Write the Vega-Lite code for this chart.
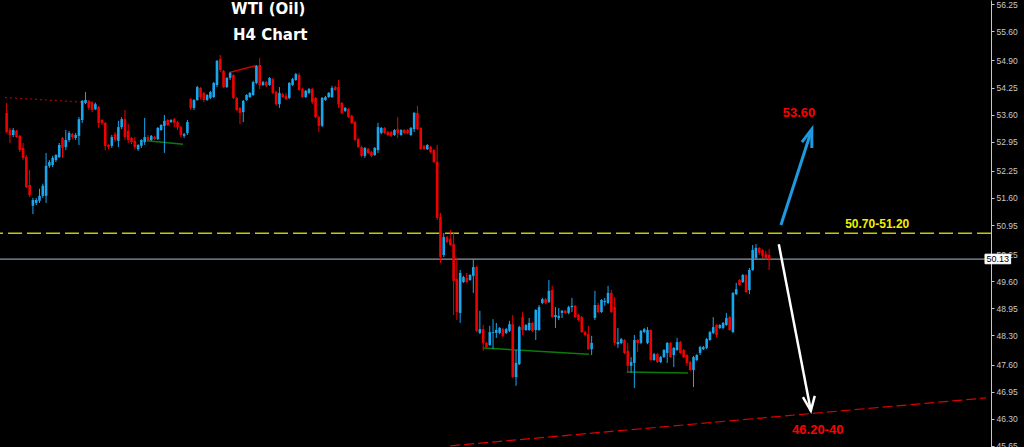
{
"$schema":"https://vega.github.io/schema/vega-lite/v6.json",
"width":991,"height":447,
"autosize":{"type":"none"},
"padding":{"left":0,"top":0,"bottom":0,"right":33},
"background":"#000000",
"config":{"view":{"stroke":null},
  "axisY":{"grid":false,"domainColor":"#c8c8c8","tickColor":"#c8c8c8","tickSize":3,"labelPadding":2,"labelColor":"#c8c8c8","labelFont":"Liberation Sans","labelFontSize":8.5,"labelOverlap":false,"format":".2f"}},
"datasets":{
"candles":[
{"i":0,"o":53.64,"h":53.88,"l":53.16,"c":53.18},
{"i":1,"o":53.23,"h":53.28,"l":52.92,"c":53.11},
{"i":2,"o":53.11,"h":53.28,"l":53.06,"c":53.23},
{"i":3,"o":53.21,"h":53.23,"l":53.04,"c":53.06},
{"i":4,"o":53.09,"h":53.11,"l":52.70,"c":52.75},
{"i":5,"o":52.80,"h":52.92,"l":52.51,"c":52.56},
{"i":6,"o":52.58,"h":52.63,"l":51.84,"c":51.86},
{"i":7,"o":51.91,"h":52.27,"l":51.62,"c":51.67},
{"i":8,"o":51.41,"h":51.60,"l":51.21,"c":51.55},
{"i":9,"o":51.48,"h":51.60,"l":51.43,"c":51.55},
{"i":10,"o":51.53,"h":51.82,"l":51.48,"c":51.65},
{"i":11,"o":51.65,"h":51.94,"l":51.60,"c":51.89},
{"i":12,"o":51.65,"h":52.68,"l":51.48,"c":52.37},
{"i":13,"o":52.37,"h":52.51,"l":52.32,"c":52.46},
{"i":14,"o":52.39,"h":52.61,"l":52.34,"c":52.56},
{"i":15,"o":52.51,"h":52.65,"l":52.46,"c":52.63},
{"i":16,"o":52.58,"h":52.92,"l":52.56,"c":52.87},
{"i":17,"o":53.04,"h":53.06,"l":52.56,"c":52.80},
{"i":18,"o":52.82,"h":53.23,"l":52.75,"c":52.99},
{"i":19,"o":52.99,"h":53.21,"l":52.94,"c":53.16},
{"i":20,"o":53.13,"h":53.16,"l":53.01,"c":53.06},
{"i":21,"o":53.04,"h":53.16,"l":52.99,"c":53.11},
{"i":22,"o":53.09,"h":53.54,"l":52.87,"c":53.49},
{"i":23,"o":53.47,"h":53.95,"l":53.40,"c":53.93},
{"i":24,"o":53.88,"h":54.14,"l":53.85,"c":53.95},
{"i":25,"o":53.93,"h":53.95,"l":53.71,"c":53.76},
{"i":26,"o":53.88,"h":53.93,"l":53.66,"c":53.71},
{"i":27,"o":53.73,"h":53.88,"l":53.71,"c":53.85},
{"i":28,"o":53.78,"h":53.81,"l":53.28,"c":53.40},
{"i":29,"o":53.47,"h":53.49,"l":53.35,"c":53.40},
{"i":30,"o":53.40,"h":53.42,"l":52.75,"c":52.85},
{"i":31,"o":52.87,"h":52.89,"l":52.77,"c":52.82},
{"i":32,"o":52.85,"h":53.11,"l":52.80,"c":53.06},
{"i":33,"o":53.13,"h":53.18,"l":52.94,"c":52.99},
{"i":34,"o":52.97,"h":53.45,"l":52.82,"c":53.30},
{"i":35,"o":53.30,"h":53.54,"l":53.25,"c":53.49},
{"i":36,"o":53.49,"h":53.71,"l":52.99,"c":53.06},
{"i":37,"o":53.21,"h":53.37,"l":52.92,"c":52.99},
{"i":38,"o":53.04,"h":53.06,"l":52.89,"c":52.94},
{"i":39,"o":52.97,"h":53.06,"l":52.77,"c":52.82},
{"i":40,"o":52.77,"h":52.89,"l":52.73,"c":52.87},
{"i":41,"o":52.85,"h":53.01,"l":52.80,"c":52.99},
{"i":42,"o":52.94,"h":53.52,"l":52.87,"c":53.06},
{"i":43,"o":53.06,"h":53.11,"l":52.97,"c":52.99},
{"i":44,"o":52.99,"h":53.11,"l":52.97,"c":53.09},
{"i":45,"o":53.06,"h":53.09,"l":52.99,"c":53.01},
{"i":46,"o":53.01,"h":53.30,"l":52.99,"c":53.28},
{"i":47,"o":53.23,"h":53.37,"l":53.21,"c":53.35},
{"i":48,"o":53.33,"h":53.59,"l":52.68,"c":53.45},
{"i":49,"o":53.47,"h":53.49,"l":53.33,"c":53.35},
{"i":50,"o":53.42,"h":53.49,"l":53.40,"c":53.47},
{"i":51,"o":53.49,"h":53.52,"l":53.30,"c":53.40},
{"i":52,"o":53.42,"h":53.45,"l":53.23,"c":53.30},
{"i":53,"o":53.30,"h":53.33,"l":53.06,"c":53.11},
{"i":54,"o":53.09,"h":53.16,"l":53.04,"c":53.13},
{"i":55,"o":53.16,"h":53.47,"l":53.11,"c":53.42},
{"i":56,"o":53.97,"h":54.00,"l":53.71,"c":53.76},
{"i":57,"o":53.76,"h":53.97,"l":53.71,"c":53.95},
{"i":58,"o":53.95,"h":54.29,"l":53.93,"c":54.26},
{"i":59,"o":54.24,"h":54.26,"l":53.97,"c":54.02},
{"i":60,"o":54.12,"h":54.14,"l":53.90,"c":53.95},
{"i":61,"o":53.95,"h":54.09,"l":53.93,"c":54.07},
{"i":62,"o":54.00,"h":54.17,"l":53.97,"c":54.14},
{"i":63,"o":54.02,"h":54.38,"l":54.00,"c":54.36},
{"i":64,"o":54.31,"h":54.91,"l":54.26,"c":54.89},
{"i":65,"o":54.93,"h":55.03,"l":54.62,"c":54.67},
{"i":66,"o":54.65,"h":54.67,"l":54.24,"c":54.26},
{"i":67,"o":54.26,"h":54.50,"l":54.24,"c":54.48},
{"i":68,"o":54.48,"h":54.62,"l":54.43,"c":54.60},
{"i":69,"o":54.55,"h":54.57,"l":53.97,"c":54.00},
{"i":70,"o":54.00,"h":54.02,"l":53.69,"c":53.71},
{"i":71,"o":53.76,"h":53.78,"l":53.37,"c":53.64},
{"i":72,"o":53.66,"h":53.95,"l":53.42,"c":53.93},
{"i":73,"o":53.95,"h":54.09,"l":53.93,"c":54.07},
{"i":74,"o":54.02,"h":54.14,"l":54.00,"c":54.12},
{"i":75,"o":54.07,"h":54.41,"l":54.05,"c":54.38},
{"i":76,"o":54.36,"h":54.79,"l":54.33,"c":54.77},
{"i":77,"o":54.79,"h":54.96,"l":54.21,"c":54.31},
{"i":78,"o":54.31,"h":54.41,"l":54.29,"c":54.38},
{"i":79,"o":54.38,"h":54.41,"l":54.26,"c":54.29},
{"i":80,"o":54.31,"h":54.50,"l":54.29,"c":54.48},
{"i":81,"o":54.45,"h":54.48,"l":54.09,"c":54.12},
{"i":82,"o":54.14,"h":54.17,"l":53.81,"c":53.85},
{"i":83,"o":53.85,"h":54.26,"l":53.76,"c":54.12},
{"i":84,"o":54.09,"h":54.12,"l":54.00,"c":54.02},
{"i":85,"o":54.05,"h":54.12,"l":53.95,"c":53.97},
{"i":86,"o":54.00,"h":54.38,"l":53.97,"c":54.36},
{"i":87,"o":54.31,"h":54.48,"l":54.29,"c":54.45},
{"i":88,"o":54.43,"h":54.60,"l":54.41,"c":54.57},
{"i":89,"o":54.55,"h":54.60,"l":54.17,"c":54.19},
{"i":90,"o":54.21,"h":54.24,"l":54.00,"c":54.02},
{"i":91,"o":54.02,"h":54.19,"l":54.00,"c":54.17},
{"i":92,"o":54.12,"h":54.24,"l":54.09,"c":54.21},
{"i":93,"o":54.21,"h":54.24,"l":53.85,"c":53.90},
{"i":94,"o":54.00,"h":54.02,"l":53.52,"c":53.54},
{"i":95,"o":53.54,"h":53.57,"l":53.18,"c":53.33},
{"i":96,"o":53.33,"h":54.02,"l":53.30,"c":54.00},
{"i":97,"o":53.95,"h":54.05,"l":53.93,"c":54.02},
{"i":98,"o":54.02,"h":54.14,"l":54.00,"c":54.12},
{"i":99,"o":54.02,"h":54.29,"l":54.00,"c":54.24},
{"i":100,"o":54.26,"h":54.29,"l":54.17,"c":54.19},
{"i":101,"o":54.26,"h":54.43,"l":53.76,"c":53.85},
{"i":102,"o":53.88,"h":53.90,"l":53.61,"c":53.64},
{"i":103,"o":53.69,"h":53.78,"l":53.66,"c":53.76},
{"i":104,"o":53.73,"h":53.76,"l":53.52,"c":53.54},
{"i":105,"o":53.57,"h":53.59,"l":53.37,"c":53.40},
{"i":106,"o":53.42,"h":53.45,"l":52.97,"c":52.99},
{"i":107,"o":53.01,"h":53.04,"l":52.80,"c":52.82},
{"i":108,"o":52.82,"h":52.85,"l":52.58,"c":52.61},
{"i":109,"o":52.61,"h":52.82,"l":52.56,"c":52.80},
{"i":110,"o":52.77,"h":52.80,"l":52.65,"c":52.68},
{"i":111,"o":52.70,"h":52.73,"l":52.58,"c":52.61},
{"i":112,"o":52.63,"h":52.82,"l":52.61,"c":52.80},
{"i":113,"o":52.75,"h":53.40,"l":52.68,"c":53.30},
{"i":114,"o":53.16,"h":53.30,"l":53.13,"c":53.28},
{"i":115,"o":53.28,"h":53.30,"l":53.13,"c":53.16},
{"i":116,"o":53.18,"h":53.21,"l":53.09,"c":53.11},
{"i":117,"o":53.18,"h":53.21,"l":53.06,"c":53.09},
{"i":118,"o":53.11,"h":53.25,"l":53.09,"c":53.23},
{"i":119,"o":53.25,"h":53.54,"l":53.04,"c":53.16},
{"i":120,"o":53.11,"h":53.25,"l":53.09,"c":53.23},
{"i":121,"o":53.23,"h":53.25,"l":53.13,"c":53.16},
{"i":122,"o":53.23,"h":53.25,"l":53.13,"c":53.16},
{"i":123,"o":53.11,"h":53.30,"l":53.09,"c":53.28},
{"i":124,"o":53.25,"h":53.66,"l":53.18,"c":53.64},
{"i":125,"o":53.64,"h":53.81,"l":53.23,"c":53.25},
{"i":126,"o":53.28,"h":53.30,"l":52.75,"c":52.77},
{"i":127,"o":52.85,"h":52.87,"l":52.75,"c":52.77},
{"i":128,"o":52.77,"h":52.89,"l":52.75,"c":52.87},
{"i":129,"o":52.82,"h":52.85,"l":52.68,"c":52.70},
{"i":130,"o":52.75,"h":52.77,"l":52.44,"c":52.46},
{"i":131,"o":52.46,"h":52.87,"l":51.07,"c":51.12},
{"i":132,"o":51.14,"h":51.24,"l":50.04,"c":50.18},
{"i":133,"o":50.23,"h":50.76,"l":50.18,"c":50.66},
{"i":134,"o":50.66,"h":50.69,"l":50.52,"c":50.54},
{"i":135,"o":50.61,"h":50.83,"l":50.45,"c":50.47},
{"i":136,"o":50.49,"h":50.76,"l":48.79,"c":49.61},
{"i":137,"o":49.65,"h":50.16,"l":48.67,"c":48.86},
{"i":138,"o":48.84,"h":49.87,"l":48.60,"c":49.80},
{"i":139,"o":49.58,"h":49.73,"l":49.56,"c":49.70},
{"i":140,"o":49.68,"h":49.80,"l":49.56,"c":49.58},
{"i":141,"o":49.63,"h":49.77,"l":49.61,"c":49.75},
{"i":142,"o":49.73,"h":50.13,"l":49.32,"c":49.94},
{"i":143,"o":49.94,"h":49.97,"l":48.38,"c":48.41},
{"i":144,"o":48.36,"h":48.89,"l":48.33,"c":48.45},
{"i":145,"o":48.45,"h":48.55,"l":47.93,"c":48.12},
{"i":146,"o":48.12,"h":48.14,"l":48.00,"c":48.02},
{"i":147,"o":48.07,"h":48.53,"l":48.05,"c":48.38},
{"i":148,"o":48.36,"h":48.69,"l":47.97,"c":48.38},
{"i":149,"o":48.36,"h":48.60,"l":48.24,"c":48.43},
{"i":150,"o":48.36,"h":48.50,"l":48.33,"c":48.48},
{"i":151,"o":48.45,"h":48.48,"l":48.26,"c":48.29},
{"i":152,"o":48.36,"h":48.48,"l":48.33,"c":48.45},
{"i":153,"o":48.41,"h":48.65,"l":48.38,"c":48.57},
{"i":154,"o":48.57,"h":48.79,"l":47.28,"c":47.30},
{"i":155,"o":47.30,"h":47.95,"l":47.09,"c":47.64},
{"i":156,"o":47.61,"h":48.53,"l":47.59,"c":48.50},
{"i":157,"o":48.74,"h":48.86,"l":48.31,"c":48.43},
{"i":158,"o":48.43,"h":48.57,"l":48.41,"c":48.55},
{"i":159,"o":48.43,"h":48.72,"l":48.41,"c":48.60},
{"i":160,"o":48.60,"h":48.62,"l":48.38,"c":48.41},
{"i":161,"o":48.43,"h":48.93,"l":48.19,"c":48.91},
{"i":162,"o":48.43,"h":49.03,"l":48.41,"c":48.98},
{"i":163,"o":49.08,"h":49.20,"l":49.05,"c":49.17},
{"i":164,"o":49.17,"h":49.20,"l":49.05,"c":49.08},
{"i":165,"o":49.10,"h":49.63,"l":49.08,"c":49.37},
{"i":166,"o":49.39,"h":49.49,"l":48.72,"c":48.74},
{"i":167,"o":48.74,"h":48.98,"l":48.48,"c":48.79},
{"i":168,"o":48.72,"h":48.96,"l":48.67,"c":48.77},
{"i":169,"o":48.84,"h":48.91,"l":48.72,"c":48.89},
{"i":170,"o":48.89,"h":48.91,"l":48.81,"c":48.84},
{"i":171,"o":48.84,"h":49.01,"l":48.81,"c":48.98},
{"i":172,"o":48.98,"h":49.20,"l":48.86,"c":49.01},
{"i":173,"o":49.01,"h":49.03,"l":48.72,"c":48.74},
{"i":174,"o":48.79,"h":48.81,"l":48.65,"c":48.67},
{"i":175,"o":48.74,"h":48.77,"l":48.36,"c":48.38},
{"i":176,"o":48.38,"h":48.41,"l":48.29,"c":48.31},
{"i":177,"o":48.33,"h":48.53,"l":47.95,"c":47.97},
{"i":178,"o":47.97,"h":48.29,"l":47.83,"c":48.12},
{"i":179,"o":48.72,"h":49.37,"l":48.67,"c":49.03},
{"i":180,"o":49.03,"h":49.08,"l":48.84,"c":48.86},
{"i":181,"o":48.86,"h":49.17,"l":48.84,"c":49.15},
{"i":182,"o":49.10,"h":49.20,"l":49.01,"c":49.13},
{"i":183,"o":49.08,"h":49.49,"l":49.05,"c":49.32},
{"i":184,"o":49.32,"h":49.39,"l":48.84,"c":48.86},
{"i":185,"o":48.98,"h":49.22,"l":48.07,"c":48.12},
{"i":186,"o":48.09,"h":48.48,"l":48.00,"c":48.14},
{"i":187,"o":48.12,"h":48.24,"l":48.09,"c":48.21},
{"i":188,"o":48.19,"h":48.21,"l":47.85,"c":47.88},
{"i":189,"o":47.93,"h":48.12,"l":47.40,"c":47.57},
{"i":190,"o":47.57,"h":47.78,"l":47.40,"c":47.66},
{"i":191,"o":47.64,"h":48.31,"l":47.04,"c":48.19},
{"i":192,"o":48.19,"h":48.21,"l":47.90,"c":48.12},
{"i":193,"o":48.12,"h":48.43,"l":48.09,"c":48.41},
{"i":194,"o":48.38,"h":48.48,"l":48.36,"c":48.45},
{"i":195,"o":48.12,"h":48.50,"l":48.09,"c":48.43},
{"i":196,"o":48.43,"h":48.45,"l":47.69,"c":47.71},
{"i":197,"o":47.71,"h":47.88,"l":47.69,"c":47.85},
{"i":198,"o":47.85,"h":47.88,"l":47.64,"c":47.66},
{"i":199,"o":47.66,"h":47.81,"l":47.64,"c":47.78},
{"i":200,"o":47.78,"h":47.97,"l":47.76,"c":47.95},
{"i":201,"o":47.88,"h":48.14,"l":47.64,"c":48.12},
{"i":202,"o":48.12,"h":48.14,"l":47.76,"c":47.78},
{"i":203,"o":47.83,"h":48.02,"l":47.54,"c":48.00},
{"i":204,"o":47.95,"h":48.24,"l":47.93,"c":48.14},
{"i":205,"o":48.14,"h":48.17,"l":47.85,"c":47.88},
{"i":206,"o":47.95,"h":47.97,"l":47.76,"c":47.78},
{"i":207,"o":47.83,"h":47.85,"l":47.57,"c":47.64},
{"i":208,"o":47.66,"h":47.69,"l":47.45,"c":47.47},
{"i":209,"o":47.47,"h":47.81,"l":47.06,"c":47.78},
{"i":210,"o":47.71,"h":47.85,"l":47.69,"c":47.83},
{"i":211,"o":47.88,"h":48.05,"l":47.83,"c":48.02},
{"i":212,"o":47.97,"h":48.05,"l":47.95,"c":48.02},
{"i":213,"o":48.00,"h":48.24,"l":47.97,"c":48.21},
{"i":214,"o":48.19,"h":48.41,"l":48.17,"c":48.38},
{"i":215,"o":48.36,"h":48.74,"l":48.33,"c":48.50},
{"i":216,"o":48.55,"h":48.57,"l":48.26,"c":48.31},
{"i":217,"o":48.48,"h":48.57,"l":48.45,"c":48.55},
{"i":218,"o":48.48,"h":48.62,"l":48.45,"c":48.60},
{"i":219,"o":48.55,"h":48.84,"l":48.53,"c":48.72},
{"i":220,"o":48.74,"h":48.77,"l":48.41,"c":48.43},
{"i":221,"o":48.38,"h":49.34,"l":48.36,"c":49.32},
{"i":222,"o":49.29,"h":49.56,"l":49.27,"c":49.41},
{"i":223,"o":49.63,"h":49.65,"l":49.49,"c":49.51},
{"i":224,"o":49.58,"h":49.77,"l":49.56,"c":49.75},
{"i":225,"o":49.75,"h":49.77,"l":49.32,"c":49.34},
{"i":226,"o":49.39,"h":49.92,"l":49.29,"c":49.87},
{"i":227,"o":49.87,"h":50.47,"l":49.85,"c":50.35},
{"i":228,"o":50.16,"h":50.49,"l":50.11,"c":50.40},
{"i":229,"o":50.40,"h":50.42,"l":50.23,"c":50.28},
{"i":230,"o":50.35,"h":50.37,"l":50.16,"c":50.21},
{"i":231,"o":50.25,"h":50.33,"l":50.11,"c":50.16},
{"i":232,"o":50.23,"h":50.37,"l":49.87,"c":50.13}
]},
"layer":[
{"data":{"values":[{"p":50.75}]},
 "mark":{"type":"rule","color":"#c8c800","strokeDash":[14,5],"strokeWidth":1.5},
 "encoding":{"y":{"field":"p","type":"quantitative","scale":{"domain":[45.622,56.35],"nice":false,"zero":false},
   "axis":{"orient":"right","values":[45.65,46.3,46.95,47.6,48.3,48.95,49.6,50.25,50.95,51.6,52.25,52.95,53.6,54.25,54.9,55.6,56.25],"title":null}}}},
{"data":{"values":[{"p":50.13}]},
 "mark":{"type":"rule","color":"#8c98a4","strokeWidth":1.3},
 "encoding":{"y":{"field":"p","type":"quantitative","scale":{"domain":[45.622,56.35],"nice":false,"zero":false},"axis":{"orient":"right","values":[45.65,46.3,46.95,47.6,48.3,48.95,49.6,50.25,50.95,51.6,52.25,52.95,53.6,54.25,54.9,55.6,56.25],"title":null}}}},
{"data":{"values":[{"s":"a","k":0,"i":-0.5,"p":54.01},{"s":"a","k":1,"i":27.2,"p":53.88}]},
 "mark":{"type":"line","color":"#b00000","strokeDash":[2,3],"strokeWidth":1.2},
 "encoding":{"x":{"field":"i","type":"quantitative","scale":{"domain":[-0.5,298],"nice":false,"zero":false},"axis":null},
   "y":{"field":"p","type":"quantitative","scale":{"domain":[45.622,56.35],"nice":false,"zero":false},"axis":{"orient":"right","values":[45.65,46.3,46.95,47.6,48.3,48.95,49.6,50.25,50.95,51.6,52.25,52.95,53.6,54.25,54.9,55.6,56.25],"title":null}},
   "detail":{"field":"s"},"order":{"field":"k"}}},
{"data":{"values":[{"s":"b","k":0,"i":67.8,"p":54.61},{"s":"b","k":1,"i":75.7,"p":54.77}]},
 "mark":{"type":"line","color":"#c80000","strokeWidth":1.5},
 "encoding":{"x":{"field":"i","type":"quantitative","scale":{"domain":[-0.5,298],"nice":false,"zero":false},"axis":null},
   "y":{"field":"p","type":"quantitative","scale":{"domain":[45.622,56.35],"nice":false,"zero":false},"axis":{"orient":"right","values":[45.65,46.3,46.95,47.6,48.3,48.95,49.6,50.25,50.95,51.6,52.25,52.95,53.6,54.25,54.9,55.6,56.25],"title":null}},
   "detail":{"field":"s"},"order":{"field":"k"}}},
{"data":{"values":[{"s":"g1","k":0,"i":42.6,"p":52.97},{"s":"g1","k":1,"i":53.7,"p":52.89},{"s":"g2","k":0,"i":145.0,"p":48.0},{"s":"g2","k":1,"i":177.2,"p":47.85},{"s":"g3","k":0,"i":188.7,"p":47.42},{"s":"g3","k":1,"i":207.3,"p":47.40}]},
 "mark":{"type":"line","color":"#0a7a0a","strokeWidth":1.5},
 "encoding":{"x":{"field":"i","type":"quantitative","scale":{"domain":[-0.5,298],"nice":false,"zero":false},"axis":null},
   "y":{"field":"p","type":"quantitative","scale":{"domain":[45.622,56.35],"nice":false,"zero":false},"axis":{"orient":"right","values":[45.65,46.3,46.95,47.6,48.3,48.95,49.6,50.25,50.95,51.6,52.25,52.95,53.6,54.25,54.9,55.6,56.25],"title":null}},
   "detail":{"field":"s"},"order":{"field":"k"}}},
{"data":{"values":[{"s":"d","k":0,"i":135.0,"p":45.65},{"s":"d","k":1,"i":298,"p":46.80}]},
 "mark":{"type":"line","color":"#e00000","strokeDash":[10,4],"strokeWidth":1.2},
 "encoding":{"x":{"field":"i","type":"quantitative","scale":{"domain":[-0.5,298],"nice":false,"zero":false},"axis":null},
   "y":{"field":"p","type":"quantitative","scale":{"domain":[45.622,56.35],"nice":false,"zero":false},"axis":{"orient":"right","values":[45.65,46.3,46.95,47.6,48.3,48.95,49.6,50.25,50.95,51.6,52.25,52.95,53.6,54.25,54.9,55.6,56.25],"title":null}},
   "detail":{"field":"s"},"order":{"field":"k"}}},
{"data":{"name":"candles"},
 "mark":{"type":"rule","strokeWidth":1},
 "encoding":{"x":{"field":"i","type":"quantitative","scale":{"domain":[-0.5,298],"nice":false,"zero":false},"axis":null},
   "y":{"field":"l","type":"quantitative","scale":{"domain":[45.622,56.35],"nice":false,"zero":false},"axis":{"orient":"right","values":[45.65,46.3,46.95,47.6,48.3,48.95,49.6,50.25,50.95,51.6,52.25,52.95,53.6,54.25,54.9,55.6,56.25],"title":null}},
   "y2":{"field":"h"},
   "color":{"condition":{"test":"datum.c >= datum.o","value":"#1aa6ec"},"value":"#f00000"}}},
{"data":{"name":"candles"},
 "mark":{"type":"bar","width":2.6},
 "encoding":{"x":{"field":"i","type":"quantitative","scale":{"domain":[-0.5,298],"nice":false,"zero":false},"axis":null},
   "y":{"field":"o","type":"quantitative","scale":{"domain":[45.622,56.35],"nice":false,"zero":false},"axis":{"orient":"right","values":[45.65,46.3,46.95,47.6,48.3,48.95,49.6,50.25,50.95,51.6,52.25,52.95,53.6,54.25,54.9,55.6,56.25],"title":null}},
   "y2":{"field":"c"},
   "color":{"condition":{"test":"datum.c >= datum.o","value":"#1aa6ec"},"value":"#f00000"}}},
{"data":{"values":[{"s":"s","k":0,"i":235.6,"p":50.95},{"s":"s","k":1,"i":245.0,"p":53.25},{"s":"h","k":0,"i":242.0,"p":52.94},{"s":"h","k":1,"i":245.0,"p":53.25},{"s":"h","k":2,"i":245.0,"p":52.80}]},
 "mark":{"type":"line","color":"#1e9be0","strokeWidth":3},
 "encoding":{"x":{"field":"i","type":"quantitative","scale":{"domain":[-0.5,298],"nice":false,"zero":false},"axis":null},
   "y":{"field":"p","type":"quantitative","scale":{"domain":[45.622,56.35],"nice":false,"zero":false},"axis":{"orient":"right","values":[45.65,46.3,46.95,47.6,48.3,48.95,49.6,50.25,50.95,51.6,52.25,52.95,53.6,54.25,54.9,55.6,56.25],"title":null}},
   "detail":{"field":"s"},"order":{"field":"k"}}},
{"data":{"values":[{"s":"s","k":0,"i":234.95,"p":50.49},{"s":"s","k":1,"i":244.7,"p":46.49},{"s":"h","k":0,"i":242.3,"p":46.82},{"s":"h","k":1,"i":244.7,"p":46.49},{"s":"h","k":2,"i":245.9,"p":46.85}]},
 "mark":{"type":"line","color":"#ffffff","strokeWidth":2.5},
 "encoding":{"x":{"field":"i","type":"quantitative","scale":{"domain":[-0.5,298],"nice":false,"zero":false},"axis":null},
   "y":{"field":"p","type":"quantitative","scale":{"domain":[45.622,56.35],"nice":false,"zero":false},"axis":{"orient":"right","values":[45.65,46.3,46.95,47.6,48.3,48.95,49.6,50.25,50.95,51.6,52.25,52.95,53.6,54.25,54.9,55.6,56.25],"title":null}},
   "detail":{"field":"s"},"order":{"field":"k"}}},
{"data":{"values":[{"i":79.6,"p":56.13,"t":"WTI (Oil)"},{"i":80.2,"p":55.51,"t":"H4 Chart"}]},
 "mark":{"type":"text","color":"#ffffff","font":"DejaVu Sans","fontWeight":"bold","fontSize":15,"align":"center","baseline":"middle"},
 "encoding":{"x":{"field":"i","type":"quantitative","scale":{"domain":[-0.5,298],"nice":false,"zero":false},"axis":null},
   "y":{"field":"p","type":"quantitative","scale":{"domain":[45.622,56.35],"nice":false,"zero":false},"axis":{"orient":"right","values":[45.65,46.3,46.95,47.6,48.3,48.95,49.6,50.25,50.95,51.6,52.25,52.95,53.6,54.25,54.9,55.6,56.25],"title":null}},
   "text":{"field":"t"}}},
{"data":{"values":[{"i":241.1,"p":53.63,"t":"53.60"},{"i":246.8,"p":46.02,"t":"46.20-40"}]},
 "mark":{"type":"text","color":"#ff0000","font":"Liberation Sans","fontWeight":"bold","fontSize":13,"align":"center","baseline":"middle"},
 "encoding":{"x":{"field":"i","type":"quantitative","scale":{"domain":[-0.5,298],"nice":false,"zero":false},"axis":null},
   "y":{"field":"p","type":"quantitative","scale":{"domain":[45.622,56.35],"nice":false,"zero":false},"axis":{"orient":"right","values":[45.65,46.3,46.95,47.6,48.3,48.95,49.6,50.25,50.95,51.6,52.25,52.95,53.6,54.25,54.9,55.6,56.25],"title":null}},
   "text":{"field":"t"}}},
{"data":{"values":[{"i":264.9,"p":50.97,"t":"50.70-51.20"}]},
 "mark":{"type":"text","color":"#f0f000","font":"Liberation Sans","fontWeight":"bold","fontSize":12,"align":"center","baseline":"middle"},
 "encoding":{"x":{"field":"i","type":"quantitative","scale":{"domain":[-0.5,298],"nice":false,"zero":false},"axis":null},
   "y":{"field":"p","type":"quantitative","scale":{"domain":[45.622,56.35],"nice":false,"zero":false},"axis":{"orient":"right","values":[45.65,46.3,46.95,47.6,48.3,48.95,49.6,50.25,50.95,51.6,52.25,52.95,53.6,54.25,54.9,55.6,56.25],"title":null}},
   "text":{"field":"t"}}},
{"data":{"values":[{"i":297.7,"i2":305.5,"p":50.25,"p2":50.02}]},
 "mark":{"type":"rect","fill":"#ffffff","stroke":"#ffffff","strokeWidth":1},
 "encoding":{"x":{"field":"i","type":"quantitative","scale":{"domain":[-0.5,298],"nice":false,"zero":false},"axis":null},
   "x2":{"field":"i2"},
   "y":{"field":"p","type":"quantitative","scale":{"domain":[45.622,56.35],"nice":false,"zero":false},"axis":{"orient":"right","values":[45.65,46.3,46.95,47.6,48.3,48.95,49.6,50.25,50.95,51.6,52.25,52.95,53.6,54.25,54.9,55.6,56.25],"title":null}},
   "y2":{"field":"p2"}}},
{"data":{"values":[{"i":301.6,"p":50.135,"t":"50.13"}]},
 "mark":{"type":"text","color":"#000000","font":"Liberation Sans","fontSize":9,"align":"center","baseline":"middle"},
 "encoding":{"x":{"field":"i","type":"quantitative","scale":{"domain":[-0.5,298],"nice":false,"zero":false},"axis":null},
   "y":{"field":"p","type":"quantitative","scale":{"domain":[45.622,56.35],"nice":false,"zero":false},"axis":{"orient":"right","values":[45.65,46.3,46.95,47.6,48.3,48.95,49.6,50.25,50.95,51.6,52.25,52.95,53.6,54.25,54.9,55.6,56.25],"title":null}},
   "text":{"field":"t"}}}
]
}
